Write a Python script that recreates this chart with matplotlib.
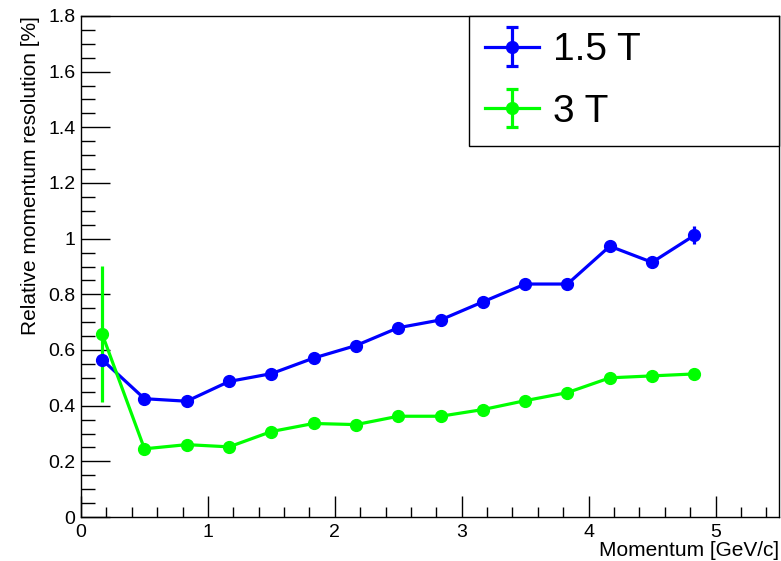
import matplotlib
matplotlib.use("Agg")
import matplotlib.pyplot as plt
from matplotlib.ticker import MultipleLocator
import numpy as np

plt.rcParams['font.family'] = ['Liberation Sans', 'DejaVu Sans']

# bin centres [GeV/c]
momentum = [0.167, 0.5, 0.833, 1.167, 1.5, 1.833, 2.167, 2.5, 2.833,
            3.167, 3.5, 3.833, 4.167, 4.5, 4.833]

# 1.5 T
res_15 = [0.565, 0.425, 0.416, 0.487, 0.515, 0.571, 0.616, 0.680, 0.708,
          0.773, 0.837, 0.837, 0.973, 0.915, 1.012]
err_15 = [0.02, 0.01, 0.01, 0.012, 0.01, 0.012, 0.012, 0.012, 0.012,
          0.015, 0.012, 0.015, 0.022, 0.02, 0.032]

# 3 T
res_3 = [0.657, 0.245, 0.260, 0.252, 0.307, 0.336, 0.332, 0.362, 0.362,
         0.386, 0.418, 0.447, 0.500, 0.507, 0.514]
err_3 = [0.245, 0.008, 0.008, 0.008, 0.008, 0.008, 0.008, 0.008, 0.008,
         0.008, 0.008, 0.008, 0.008, 0.008, 0.008]

labels = ['1.5 T', '3 T']
colors = ['#0000ff', '#00ff00']

fig = plt.figure(figsize=(7.81, 5.61), dpi=100)
W, H = 781, 561
ax = fig.add_axes([81 / W, (H - 517) / H, (779 - 81) / W, (517 - 16) / H])

kw = dict(fmt='o-', markersize=8.5, linewidth=2.3, elinewidth=2.3, capsize=0)
ax.errorbar(momentum, res_15, yerr=err_15, color=colors[0], **kw)
ax.errorbar(momentum, res_3, yerr=err_3, color=colors[1], **kw)

# handles for the legend (with caps, as drawn in the legend box)
hkw = dict(fmt='o-', markersize=8.5, linewidth=2.3, elinewidth=2.3, capsize=4.3, capthick=2.3)
h1 = ax.errorbar([np.nan], [np.nan], yerr=[0], color=colors[0], **hkw)
h2 = ax.errorbar([np.nan], [np.nan], yerr=[0], color=colors[1], **hkw)

ax.set_xlim(0, 5.5)
ax.set_ylim(0, 1.8)
ax.xaxis.set_major_locator(MultipleLocator(1))
ax.xaxis.set_minor_locator(MultipleLocator(0.2))
ax.yaxis.set_minor_locator(MultipleLocator(0.05))
ax.set_yticks(np.arange(0, 1.81, 0.2))
ax.set_yticklabels(['0', '0.2', '0.4', '0.6', '0.8', '1', '1.2', '1.4', '1.6', '1.8'])

ax.tick_params(axis='both', which='both', direction='in', top=False, right=False,
               labelsize=14, width=1)
ax.tick_params(axis='y', which='major', length=21, pad=4)
ax.tick_params(axis='y', which='minor', length=10)
ax.tick_params(axis='x', which='major', length=15, pad=5)
ax.tick_params(axis='x', which='minor', length=7)
for s in ax.spines.values():
    s.set_linewidth(1)

ax.set_xlabel('Momentum [GeV/c]', fontsize=15, loc='right', labelpad=0)
ax.set_ylabel('Relative momentum resolution [%]', fontsize=15, loc='top', labelpad=6)

leg = ax.legend([h1, h2], labels, loc='upper left',
                bbox_to_anchor=((469 - 81) / 698, 0, 1 - (469 - 81) / 698, 1),
                mode='expand', borderaxespad=0, fontsize=28,
                fancybox=False, framealpha=1, edgecolor='black',
                handlelength=1.39, handletextpad=0.36, labelspacing=0.65,
                borderpad=0.42)
leg.get_frame().set_linewidth(1)

fig.savefig('out.png', dpi=100)
